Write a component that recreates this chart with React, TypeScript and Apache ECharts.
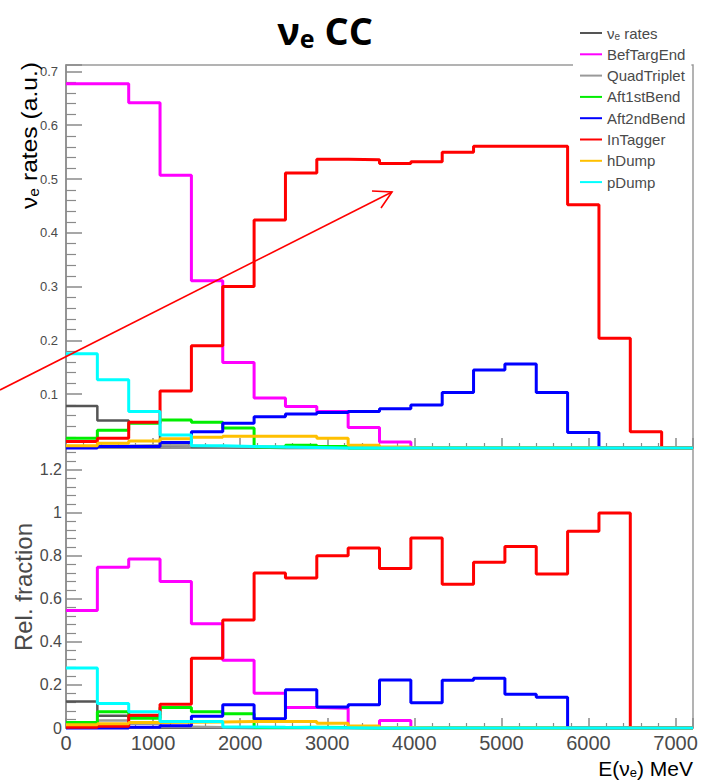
import React, { useEffect, useRef } from 'react';
import * as echarts from 'echarts';

// Histogram binning: 20 bins of 360 MeV from 0 to 7200 MeV
const BIN_WIDTH = 360;
const N_BINS = 20;
const X_MAX = 7200;

const seriesNames = ['νe rates', 'BefTargEnd', 'QuadTriplet', 'Aft1stBend', 'Aft2ndBend', 'InTagger', 'hDump', 'pDump'];
const seriesColors = ['#555555', '#ff00ff', '#999999', '#00ee00', '#0000ff', '#ff0000', '#ffc000', '#00ffff'];

// Upper panel: nu_e rates (a.u.)
const nuRatesTop = [0.078, 0.051, 0.048, 0.004, 0.002, 0.001, 0, 0, 0, 0, 0, 0, 0, 0, 0, 0, 0, 0, 0, 0];
const befTargTop = [0.677, 0.677, 0.642, 0.507, 0.311, 0.159, 0.093, 0.077, 0.068, 0.038, 0.011, 0, 0, 0, 0, 0, 0, 0, 0, 0];
const quadTop = [0.002, 0.004, 0.005, 0.004, 0.003, 0.002, 0.001, 0.001, 0, 0, 0, 0, 0, 0, 0, 0, 0, 0, 0, 0];
const aft1Top = [0.018, 0.033, 0.046, 0.052, 0.048, 0.037, 0.002, 0.005, 0.003, 0, 0, 0, 0, 0, 0, 0, 0, 0, 0, 0];
const aft2Top = [0, 0.003, 0.003, 0.01, 0.03, 0.046, 0.058, 0.063, 0.066, 0.068, 0.073, 0.08, 0.103, 0.145, 0.156, 0.103, 0.029, 0, 0, 0];
const inTagTop = [0.012, 0.018, 0.048, 0.106, 0.19, 0.3, 0.424, 0.511, 0.537, 0.536, 0.529, 0.532, 0.55, 0.561, 0.561, 0.561, 0.452, 0.204, 0.03, 0];
const hDumpTop = [0.004, 0.009, 0.013, 0.017, 0.02, 0.022, 0.022, 0.022, 0.018, 0.005, 0.002, 0, 0, 0, 0, 0, 0, 0, 0, 0];
const pDumpTop = [0.175, 0.127, 0.068, 0.024, 0.004, 0.003, 0.002, 0.001, 0, 0, 0, 0, 0, 0, 0, 0, 0, 0, 0, 0];

// Lower panel: relative fraction
const nuRatesBot = [0.123, 0.057, 0.055, 0.002, 0.001, 0, 0, 0, 0, 0, 0, 0, 0, 0, 0, 0, 0, 0, 0, 0];
const befTargBot = [0.546, 0.746, 0.785, 0.68, 0.484, 0.314, 0.161, 0.095, 0.092, 0.003, 0.035, 0, 0, 0, 0, 0, 0, 0, 0, 0];
const quadBot = [0.005, 0.035, 0.02, 0.006, 0.004, 0.003, 0.002, 0.001, 0, 0, 0, 0, 0, 0, 0, 0, 0, 0, 0, 0];
const aft1Bot = [0.025, 0.076, 0.045, 0.095, 0.076, 0.066, 0.002, 0.004, 0.002, 0, 0, 0, 0, 0, 0, 0, 0, 0, 0, 0];
const aft2Bot = [0, 0, 0.004, 0.01, 0.055, 0.108, 0.043, 0.178, 0.098, 0.108, 0.223, 0.117, 0.222, 0.231, 0.157, 0.143, 0, 0, 0, 0];
const inTagBot = [0.003, 0.008, 0.059, 0.11, 0.324, 0.502, 0.72, 0.696, 0.8, 0.836, 0.74, 0.882, 0.667, 0.769, 0.843, 0.715, 0.913, 0.998, 0, 0];
const hDumpBot = [0.015, 0.02, 0.025, 0.027, 0.028, 0.03, 0.03, 0.03, 0.022, 0.009, 0.002, 0, 0, 0, 0, 0, 0, 0, 0, 0];
const pDumpBot = [0.278, 0.114, 0.076, 0.03, 0.03, 0.005, 0.003, 0.002, 0.001, 0, 0, 0, 0, 0, 0, 0, 0, 0, 0, 0];

const topData = [nuRatesTop, befTargTop, quadTop, aft1Top, aft2Top, inTagTop, hDumpTop, pDumpTop];
const botData = [nuRatesBot, befTargBot, quadBot, aft1Bot, aft2Bot, inTagBot, hDumpBot, pDumpBot];

function histPoints(values: number[]) {
  const pts: number[][] = values.map((v, i) => [i * BIN_WIDTH, v]);
  pts.push([N_BINS * BIN_WIDTH, values[values.length - 1]]);
  return pts;
}

const FONT = 'Liberation Sans, Arial, sans-serif';
const AXIS_COLOR = '#8a8a8a';
const LABEL_COLOR = '#4a4a4a';

export default function App() {
  const ref = useRef<HTMLDivElement>(null);

  useEffect(() => {
    if (!ref.current) return;
    const chart = echarts.init(ref.current, null, { renderer: 'svg' });

    const series: any[] = [];
    [0, 1].forEach((panel) => {
      const data = panel === 0 ? topData : botData;
      seriesNames.forEach((name, i) => {
        const gray = i === 0 || i === 2;
        series.push({
          name,
          type: 'line',
          step: 'end',
          xAxisIndex: panel,
          yAxisIndex: panel,
          data: histPoints(data[i]),
          symbol: 'none',
          showSymbol: false,
          clip: false,
          lineStyle: { color: seriesColors[i], width: gray ? 2.5 : 3 },
          itemStyle: { color: seriesColors[i] },
          emphasis: { disabled: true },
        });
      });
    });

    const xAxisBase = {
      type: 'value',
      min: 0,
      max: X_MAX,
      interval: 1000,
      axisLine: { show: true, lineStyle: { color: AXIS_COLOR, width: 1.5 } },
      axisTick: { show: true, inside: true, length: 10, lineStyle: { color: AXIS_COLOR, width: 1.5 } },
      minorTick: { show: true, splitNumber: 5, length: 5, lineStyle: { color: AXIS_COLOR, width: 1.2 } },
      splitLine: { show: false },
    };

    const yAxisBase = {
      type: 'value',
      min: 0,
      axisLine: { show: true, lineStyle: { color: AXIS_COLOR, width: 1.5 } },
      axisTick: { show: true, inside: true, length: 16, lineStyle: { color: AXIS_COLOR, width: 1.5 } },
      minorTick: { show: true, splitNumber: 5, length: 10, lineStyle: { color: AXIS_COLOR, width: 1.2 } },
      splitLine: { show: false },
    };

    const subRich = (size: number, sub: number, lh: number, subLh: number, weight: any = 'normal', color = LABEL_COLOR, family = FONT) => ({
      n: { fontSize: size, lineHeight: lh, fontWeight: weight, color, fontFamily: family },
      s: { fontSize: sub, lineHeight: subLh, verticalAlign: 'bottom', fontWeight: weight, color, fontFamily: family },
    });

    chart.setOption({
      animation: false,
      grid: [
        { left: 66, right: 9, top: 65, height: 383, show: true, borderColor: '#9a9a9a', borderWidth: 1.5, backgroundColor: 'transparent' },
        { left: 66, right: 9, top: 448, height: 280, show: true, borderColor: '#9a9a9a', borderWidth: 1.5, backgroundColor: 'transparent' },
      ],
      xAxis: [
        { ...xAxisBase, gridIndex: 0, axisLabel: { show: false } },
        {
          ...xAxisBase,
          gridIndex: 1,
          axisLabel: {
            show: true,
            fontSize: 20,
            color: LABEL_COLOR,
            fontFamily: FONT,
            margin: 5,
            formatter: (v: number) => String(v),
          },
        },
      ],
      yAxis: [
        {
          ...yAxisBase,
          gridIndex: 0,
          max: 0.712,
          interval: 0.1,
          axisLabel: { show: true, showMinLabel: false, showMaxLabel: false, fontSize: 13, color: LABEL_COLOR, fontFamily: FONT, margin: 8 },
        },
        {
          ...yAxisBase,
          gridIndex: 1,
          max: 1.3,
          interval: 0.2,
          axisLabel: { show: true, showMaxLabel: false, fontSize: 16, color: LABEL_COLOR, fontFamily: FONT, margin: 4 },
        },
      ],
      legend: {
        data: seriesNames,
        orient: 'vertical',
        left: 573,
        top: 20,
        padding: [5, 6, 3, 7],
        icon: 'rect',
        itemWidth: 22,
        itemHeight: 2,
        itemGap: 5.3,
        backgroundColor: '#ffffff',
        selectedMode: false,
        z: 10,
        textStyle: {
          fontSize: 15,
          lineHeight: 16,
          color: LABEL_COLOR,
          fontFamily: FONT,
          rich: subRich(15, 10, 16, 8),
        },
        formatter: (name: string) => (name === 'νe rates' ? '{n|ν}{s|e}{n| rates}' : name),
      },
      graphic: [
        {
          type: 'text',
          x: 325,
          y: 30,
          z: 20,
          style: {
            text: '{n|ν}{s|e}{n| CC}',
            align: 'center',
            verticalAlign: 'middle',
            rich: subRich(38, 25, 40, 14, 'bold', '#1d2b6b', 'Open Sans, Liberation Sans, sans-serif'),
          },
        },
        {
          type: 'text',
          x: 29,
          y: 62,
          rotation: Math.PI / 2,
          scaleX: 1.12,
          z: 20,
          style: {
            text: '{n|ν}{s|e}{n| rates (a.u.)}',
            align: 'right',
            verticalAlign: 'middle',
            rich: subRich(22, 14, 24, 10),
          },
        },
        {
          type: 'text',
          x: 23,
          y: 523,
          rotation: Math.PI / 2,
          z: 20,
          style: {
            text: 'Rel. fraction',
            align: 'right',
            verticalAlign: 'middle',
            fontSize: 24,
            fontFamily: FONT,
            fill: LABEL_COLOR,
          },
        },
        {
          type: 'text',
          x: 693,
          y: 768,
          z: 20,
          style: {
            text: '{n|E(ν}{s|e}{n|) MeV}',
            align: 'right',
            verticalAlign: 'middle',
            rich: subRich(21, 13, 22, 9),
          },
        },
        {
          type: 'polyline',
          z: 30,
          shape: { points: [[0, 390], [392, 192]] },
          style: { stroke: '#ff0000', lineWidth: 1.6, fill: null },
        },
        {
          type: 'polyline',
          z: 30,
          shape: { points: [[372, 191], [392, 192], [381, 208]] },
          style: { stroke: '#ff0000', lineWidth: 1.6, fill: null },
        },
      ],
      series,
    });

    return () => chart.dispose();
  }, []);

  return (
    <div
      ref={ref}
      style={{ position: 'fixed', left: 0, top: 0, width: 702, height: 781, background: '#fff' }}
    />
  );
}
